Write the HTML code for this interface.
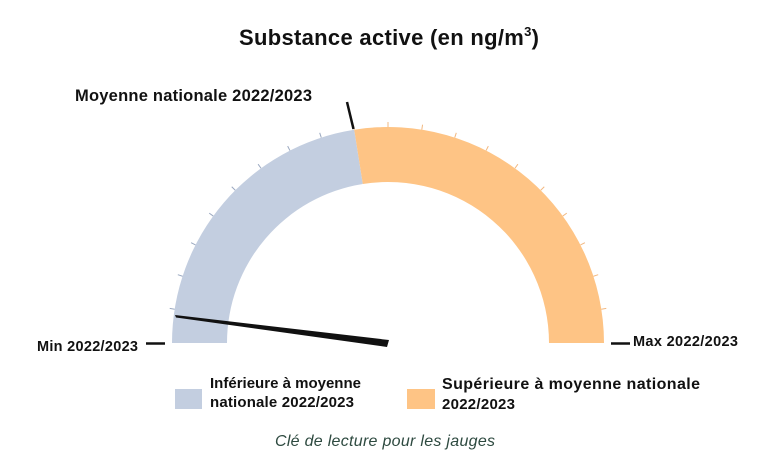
<!DOCTYPE html>
<html><head><meta charset="utf-8"><style>
html,body{margin:0;padding:0;background:#fff;width:763px;height:474px;overflow:hidden}
svg{display:block}
text{font-family:"Liberation Sans",sans-serif}
</style></head><body>
<svg id="s" width="763" height="474" viewBox="0 0 763 474">
<text x="389" y="45" text-anchor="middle" font-size="22" font-weight="bold" fill="#111" textLength="300">Substance active (en ng/m<tspan dy="-9" font-size="13">3</tspan><tspan dy="9">)</tspan></text>
<path d="M172,343 A216,216 0 0 1 354.2,129.7 L362.8,184 A161,161 0 0 0 227,343 Z" fill="#c3cee0"/>
<path d="M354.2,129.7 A216,216 0 0 1 604,343 L549,343 A161,161 0 0 0 362.8,184 Z" fill="#fec485"/>
<g id="ticks"></g>
<line x1="353.5" y1="129" x2="347" y2="102" stroke="#111" stroke-width="2.5"/>
<text x="75" y="101" font-size="16.5" font-weight="bold" fill="#111" textLength="237">Moyenne nationale 2022/2023</text>
<polygon points="175,315 176,317.5 387,347 389,340" fill="#111"/>
<line x1="146" y1="343.5" x2="165" y2="343.5" stroke="#111" stroke-width="2.5"/>
<text x="37" y="351" font-size="14.5" font-weight="bold" fill="#111" textLength="101">Min 2022/2023</text>
<line x1="611" y1="343.5" x2="630" y2="343.5" stroke="#111" stroke-width="2.5"/>
<text x="633" y="346" font-size="14.5" font-weight="bold" fill="#111" textLength="105">Max 2022/2023</text>
<rect x="175" y="389" width="27" height="20" fill="#c3cee0"/>
<text x="210" y="388" font-size="15" font-weight="bold" fill="#111" textLength="151">Inférieure à moyenne</text>
<text x="210" y="407" font-size="15" font-weight="bold" fill="#111" textLength="144">nationale 2022/2023</text>
<rect x="407" y="389" width="28" height="20" fill="#fec485"/>
<text x="442" y="389" font-size="16" font-weight="bold" fill="#111" textLength="258">Supérieure à moyenne nationale</text>
<text x="442" y="409" font-size="15" font-weight="bold" fill="#111" textLength="73">2022/2023</text>
<text x="275" y="446" font-size="16" font-style="italic" fill="#2e4a40" textLength="220">Clé de lecture pour les jauges</text>
</svg>
<script>
var g=document.getElementById('ticks'),s='';
for(var a=9;a<180;a+=9){var r=a*Math.PI/180,c=Math.cos(r),n=Math.sin(r);
var x1=388+216*c,y1=343-216*n,x2=388+221*c,y2=343-221*n;
s+='<line x1="'+x1+'" y1="'+y1+'" x2="'+x2+'" y2="'+y2+'" stroke="'+(a>99?'#9aa8c0':'#f2b880')+'" stroke-width="1"/>';}
g.innerHTML=s;
</script>
</body></html>
